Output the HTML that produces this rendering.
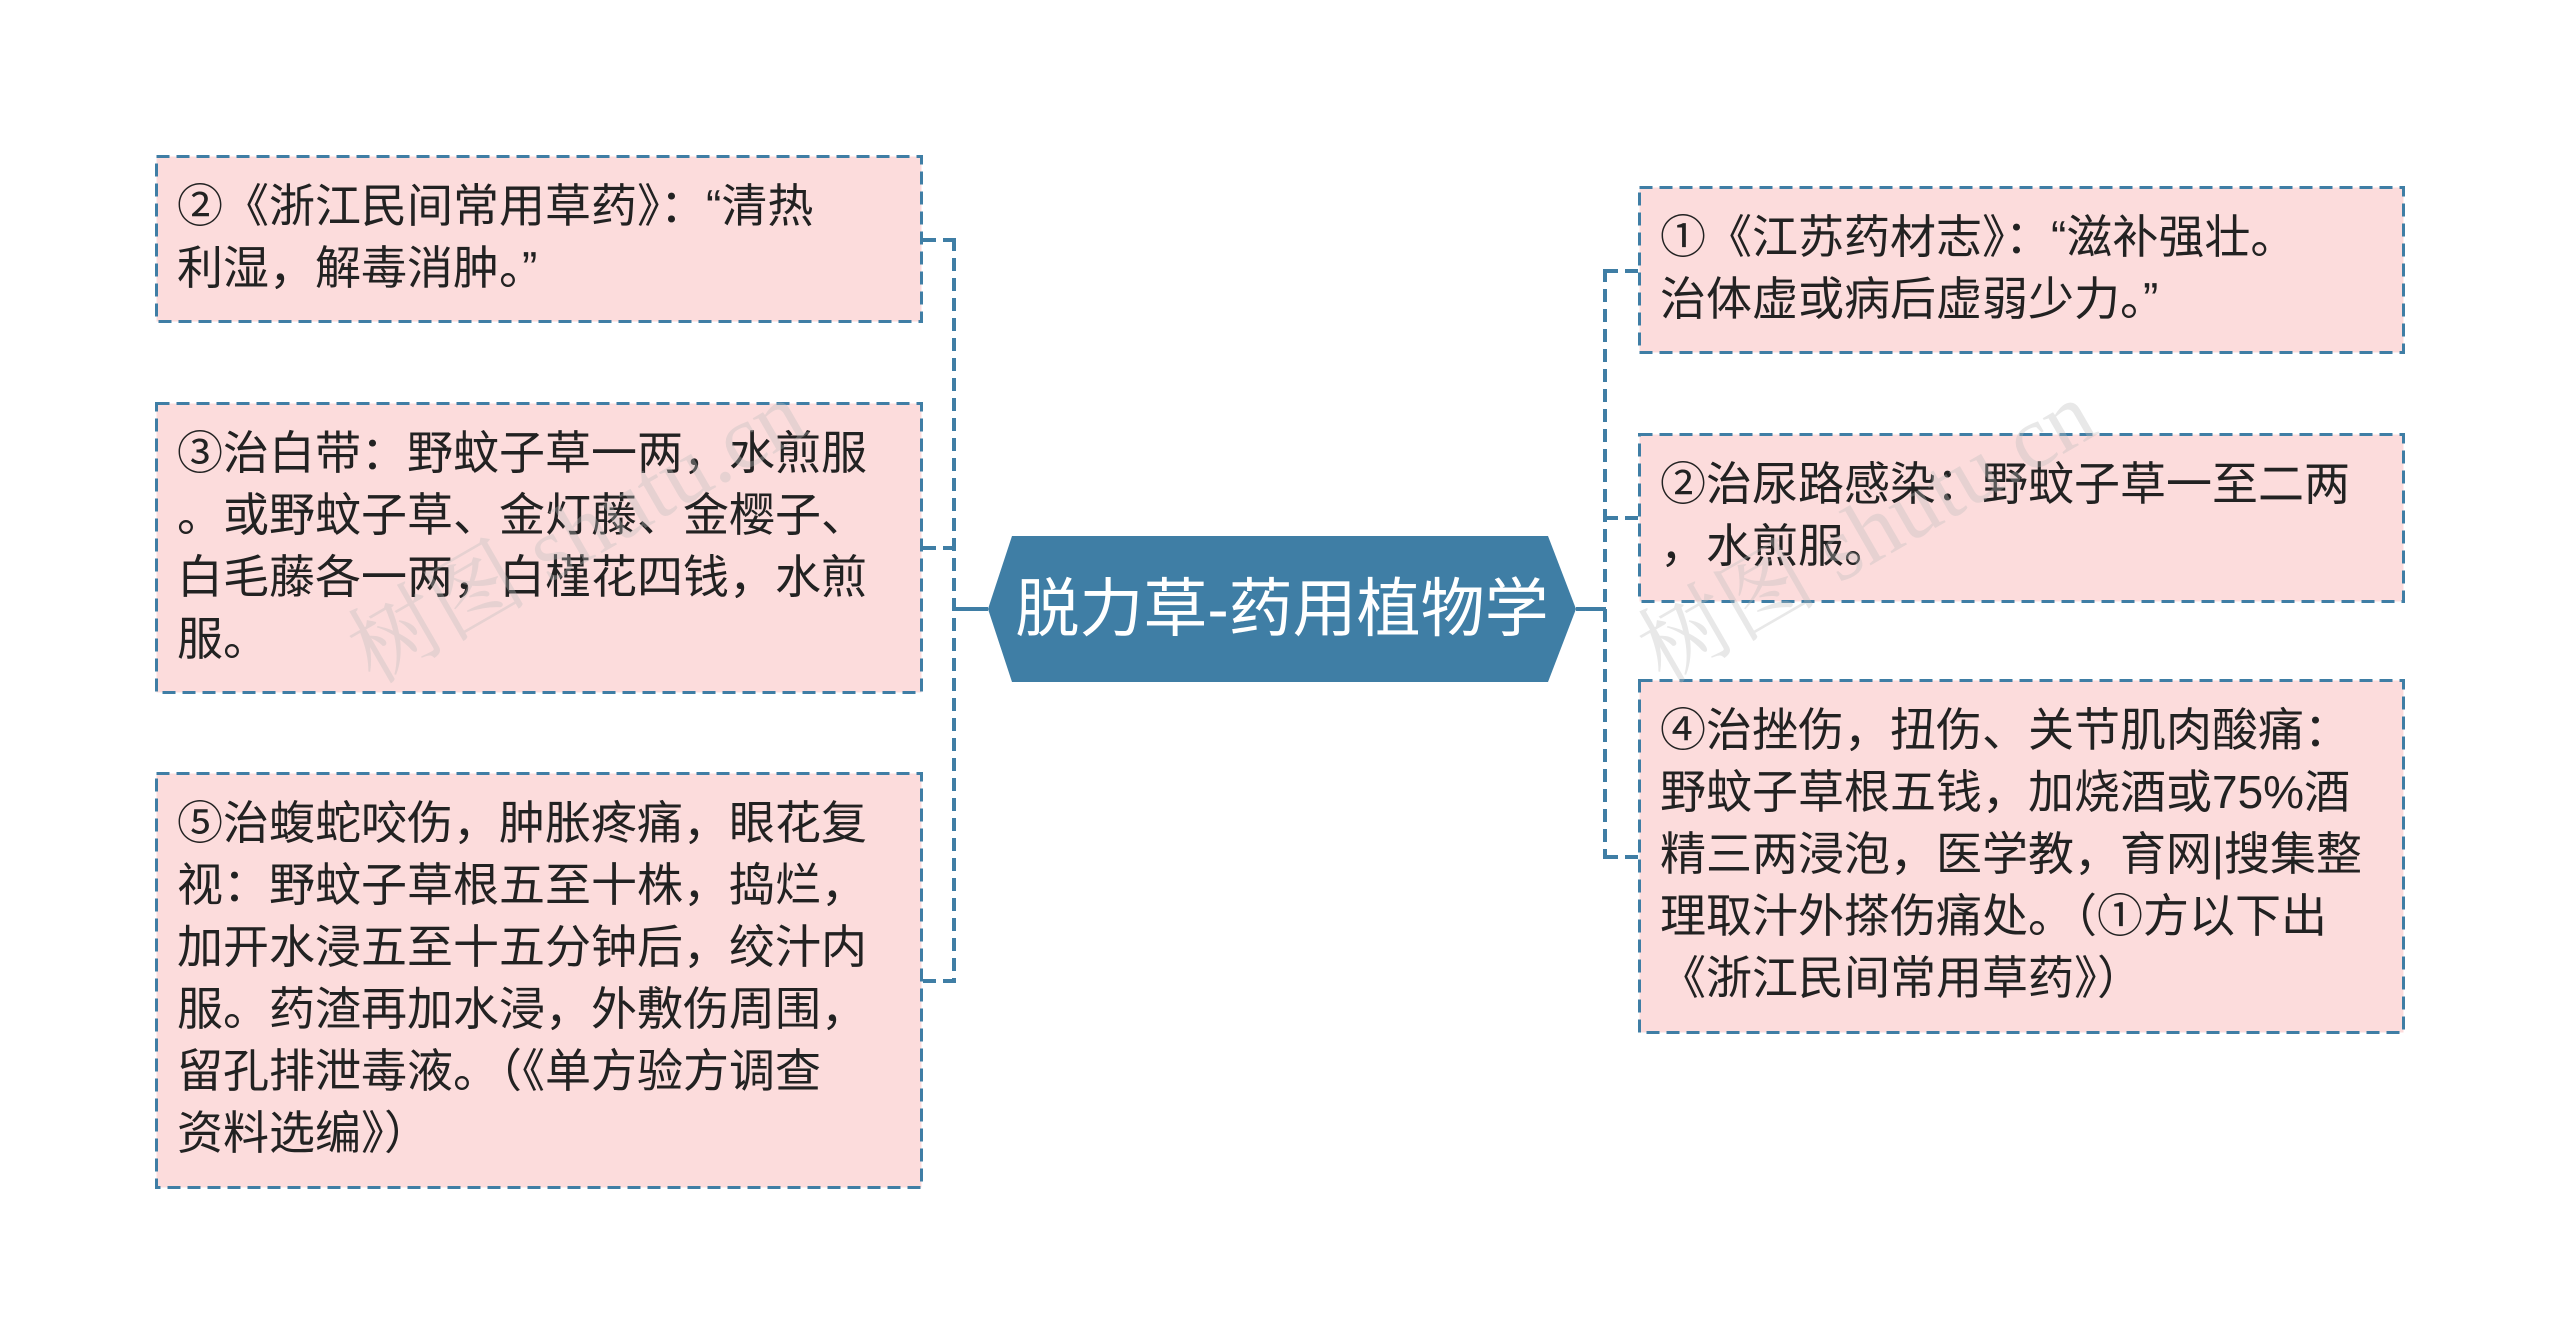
<!DOCTYPE html>
<html><head><meta charset="utf-8"><style>
html,body{margin:0;padding:0;background:#fff;}
body{width:2560px;height:1344px;position:relative;overflow:hidden;font-family:"Liberation Sans","Noto Sans CJK SC",sans-serif;}
.b{position:absolute;box-sizing:border-box;padding:20px 0 0 22px;font-size:46px;line-height:62px;color:#222;white-space:nowrap;}
.wm{position:absolute;font-size:90px;color:rgba(190,190,190,0.35);transform:rotate(-30deg);font-family:"Liberation Serif","Noto Serif CJK SC",serif;white-space:nowrap;}
</style></head><body>
<svg width="2560" height="1344" style="position:absolute;left:0;top:0">
<g fill="#fcdcdc" stroke="#3f7ea5" stroke-width="3" stroke-dasharray="13 7">
<rect x="156.5" y="156.5" width="765" height="165"/>
<rect x="156.5" y="403.5" width="765" height="289"/>
<rect x="156.5" y="773.5" width="765" height="414"/>
<rect x="1639.5" y="187.5" width="764" height="165"/>
<rect x="1639.5" y="434.5" width="764" height="167"/>
<rect x="1639.5" y="680.5" width="764" height="352"/>
</g>
<g stroke="#3f7ea5" stroke-width="4" stroke-dasharray="13 7" fill="none">
<line x1="954" y1="238" x2="954" y2="983"/>
<line x1="923" y1="240" x2="954" y2="240"/>
<line x1="923" y1="548" x2="954" y2="548"/>
<line x1="923" y1="981" x2="954" y2="981"/>
<line x1="1605" y1="269" x2="1605" y2="859"/>
<line x1="1605" y1="271" x2="1638" y2="271"/>
<line x1="1605" y1="518" x2="1638" y2="518"/>
<line x1="1605" y1="857" x2="1638" y2="857"/>
</g>
<polygon points="988,609 1012,536 1548,536 1576,609 1548,682 1012,682" fill="#3f7ea5"/>
<line x1="954" y1="609" x2="988" y2="609" stroke="#3f7ea5" stroke-width="4"/>
<line x1="1576" y1="609" x2="1606" y2="609" stroke="#3f7ea5" stroke-width="4"/>
</svg>
<div style="position:absolute;left:988px;top:536px;width:588px;height:146px;line-height:146px;text-align:center;color:#fff;font-size:64px;">脱力草-药用植物学</div>

<div class="b" style="left:155px;top:155px;">②《浙江民间常用草药》：“清热<br>利湿，解毒消肿。”</div>
<div class="b" style="left:155px;top:402px;">③治白带：野蚊子草一两，水煎服<br>。或野蚊子草、金灯藤、金樱子、<br>白毛藤各一两，白槿花四钱，水煎<br>服。</div>
<div class="b" style="left:155px;top:772px;">⑤治蝮蛇咬伤，肿胀疼痛，眼花复<br>视：野蚊子草根五至十株，捣烂，<br>加开水浸五至十五分钟后，绞汁内<br>服。药渣再加水浸，外敷伤周围，<br>留孔排泄毒液。（《单方验方调查<br>资料选编》）</div>

<div class="b" style="left:1638px;top:186px;">①《江苏药材志》：“滋补强壮。<br>治体虚或病后虚弱少力。”</div>
<div class="b" style="left:1638px;top:433px;">②治尿路感染：野蚊子草一至二两<br>，水煎服。</div>
<div class="b" style="left:1638px;top:679px;">④治挫伤，扭伤、关节肌肉酸痛：<br>野蚊子草根五钱，加烧酒或75%酒<br>精三两浸泡，医学教，育网|搜集整<br>理取汁外搽伤痛处。（①方以下出<br>《浙江民间常用草药》）</div>

<div class="wm" style="left:320px;top:460px">树图 shutu.cn</div>
<div class="wm" style="left:1610px;top:460px">树图 shutu.cn</div>
</body></html>
